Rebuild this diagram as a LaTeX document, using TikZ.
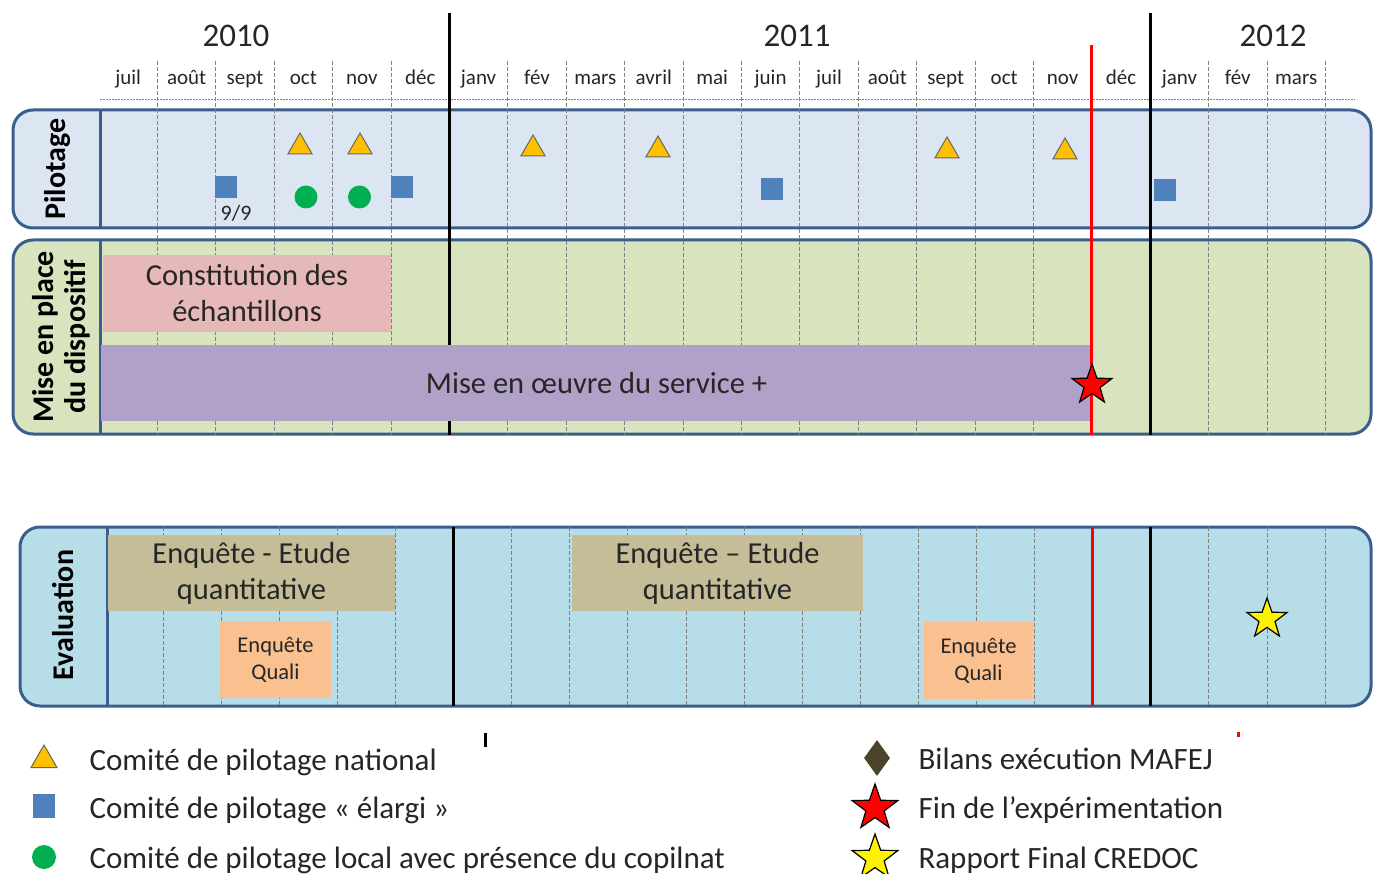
\documentclass[tikz,border=0pt]{standalone}
\usepackage{fontspec}
\setmainfont{Carlito}
\usepackage{tikz}
\usetikzlibrary{shapes.geometric}

\definecolor{frameblue}{HTML}{3A5F8C}
\definecolor{pilotfill}{HTML}{DCE6F2}
\definecolor{setupfill}{HTML}{D7E4BD}
\definecolor{evalfill}{HTML}{B7DDE8}
\definecolor{constfill}{HTML}{E6B9B8}
\definecolor{servfill}{HTML}{B1A0C7}
\definecolor{quantfill}{HTML}{C4BD97}
\definecolor{qualifill}{HTML}{FAC090}
\definecolor{natorange}{HTML}{FFC000}
\definecolor{elargiblue}{HTML}{4F81BD}
\definecolor{localgreen}{HTML}{00B050}
\definecolor{bilanolive}{HTML}{4A452A}
\definecolor{inkgray}{HTML}{262626}

\begin{document}
\begin{tikzpicture}[
    x=1pt, y=-1pt,
    panel/.style={draw=frameblue, line width=3pt, rounded corners=20pt},
    sidebar/.style={frameblue, line width=3pt},
    monthline/.style={gray, line width=0.9pt, dash pattern=on 4pt off 2pt},
    yearline/.style={black, line width=3pt},
    endline/.style={red, line width=3.2pt},
    month/.style={anchor=base, text=inkgray, font=\fontsize{21}{24}\selectfont},
    year/.style={anchor=base, text=inkgray, font=\fontsize{33}{36}\selectfont},
    title/.style={rotate=90, align=center, text=black, font=\bfseries\fontsize{30}{32}\selectfont},
    task/.style={inner sep=0pt, align=center, text=inkgray, font=\fontsize{30.5}{36}\selectfont},
    smalltask/.style={task, font=\fontsize{22.5}{27}\selectfont},
    natl/.style={regular polygon, regular polygon sides=3, fill=natorange, draw=black!60, line width=1pt, minimum size=28pt, inner sep=0pt},
    elargi/.style={rectangle, fill=elargiblue, minimum size=22pt, inner sep=0pt},
    local/.style={circle, fill=localgreen, minimum size=23pt, inner sep=0pt},
    bilan/.style={diamond, fill=bilanolive, minimum width=26pt, minimum height=36pt, inner sep=0pt},
    endstar/.style={star, star points=5, star point ratio=2.5, draw=black, line width=1.2pt, minimum size=42pt, inner sep=0pt},
    legend/.style={anchor=base west, text=inkgray, font=\fontsize{31}{36}\selectfont}
]
\useasboundingbox (0,0) rectangle (1373,874);

\draw[panel, fill=pilotfill] (13,110) rectangle (1371,228);
\draw[panel, fill=setupfill] (13,240) rectangle (1371,434);
\draw[panel, fill=evalfill] (20,527) rectangle (1371,706);

\draw[monthline, dash pattern=on 2pt off 1pt] (100,99) -- (1355,99);
\foreach \i in {1,...,21} {
  \draw[monthline] ({99+58.4*\i},61) -- ({99+58.4*\i},435);
  \draw[monthline] ({105+58.1*\i},527) -- ({105+58.1*\i},706);
}
\draw[sidebar] (100,110) -- (100,228);
\draw[sidebar] (100,240) -- (100,434);
\draw[sidebar] (107,527) -- (107,706);
\foreach \k in {6,18} {
  \draw[yearline] ({99+58.4*\k},13) -- ({99+58.4*\k},435);
  \draw[yearline] ({105+58.1*\k},527) -- ({105+58.1*\k},706);
}

\node[year] (y2010) at (236,47) {2010};
\node[year] (y2011) at (797,47) {2011};
\node[year] (y2012) at (1273,47) {2012};
\foreach \m [count=\i from 0] in {juil,août,sept,oct,nov,déc,janv,fév,mars,avril,mai,juin,juil,août,sept,oct,nov,déc,janv,fév,mars}
  \node[month] (m\i) at ({99+58.4*(\i+0.5)},85) {\m};

\node[title] (pilot) at (58,169) {Pilotage};
\node[title] (setup) at (61,337) {Mise en place\\du dispositif};
\node[title] (eval) at (63,615) {Evaluation};

\node[task, fill=constfill, minimum width=288pt, minimum height=77pt] (constit) at (247,293.5) {Constitution des\\échantillons};
\node[task, fill=servfill, minimum width=991pt, minimum height=76pt] (service) at (596.5,383) {Mise en œuvre du service +};
\node[task, fill=quantfill, minimum width=287pt, minimum height=76pt] (quant1) at (251.5,573) {Enquête - Etude\\quantitative};
\node[task, fill=quantfill, minimum width=291pt, minimum height=76pt] (quant2) at (717.5,573) {Enquête – Etude\\quantitative};
\node[smalltask, fill=qualifill, minimum width=111pt, minimum height=77pt] (quali1) at (275.5,659.5) {Enquête\\Quali};
\node[smalltask, fill=qualifill, minimum width=109pt, minimum height=77pt] (quali2) at (978.5,660.5) {Enquête\\Quali};

\draw[endline] ({99+58.4*17},45) -- ({99+58.4*17},435);
\draw[endline] ({105+58.1*17},527) -- ({105+58.1*17},706);

\node[natl] (nat1) at (300,147) {};
\node[natl] (nat2) at (360,147) {};
\node[natl] (nat3) at (533,149) {};
\node[natl] (nat4) at (658,150) {};
\node[natl] (nat5) at (947,151) {};
\node[natl] (nat6) at (1065,152) {};
\node[elargi] (el1) at (226,187) {};
\node[elargi] (el2) at (402,187) {};
\node[elargi] (el3) at (772,189) {};
\node[elargi] (el4) at (1165,190) {};
\node[month, font=\fontsize{22}{24}\selectfont] (date) at (236,221) {9/9};
\node[local] (loc1) at (306,197) {};
\node[local] (loc2) at (359.5,197) {};
\node[endstar, fill=red] (endmark) at (1092,385) {};
\node[endstar, fill=yellow] (credoc) at (1267,619) {};

\draw[black, line width=3pt] (485,733) -- (485,747);
\draw[red, line width=3pt] (1238,732) -- (1238,737);

\node[natl, minimum size=30pt] (lnat) at (44,760) {};
\node[elargi, minimum width=22pt, minimum height=24pt] (lel) at (44,806) {};
\node[local, minimum size=24pt] (lloc) at (44,857) {};
\node[bilan] (lbil) at (877,758) {};
\node[endstar, fill=red, minimum size=48pt] (lend) at (875,808) {};
\node[endstar, fill=yellow, minimum size=48pt] (lrap) at (875,858) {};
\node[legend] (tnat) at (86,770) {Comité de pilotage national};
\node[legend] (tel) at (86,818) {Comité de pilotage « élargi »};
\node[legend] (tloc) at (86,868) {Comité de pilotage local avec présence du copilnat};
\node[legend] (tbil) at (915,769) {Bilans exécution MAFEJ};
\node[legend] (tend) at (915,818) {Fin de l’expérimentation};
\node[legend] (trap) at (915,868) {Rapport Final CREDOC};
\end{tikzpicture}
\end{document}
